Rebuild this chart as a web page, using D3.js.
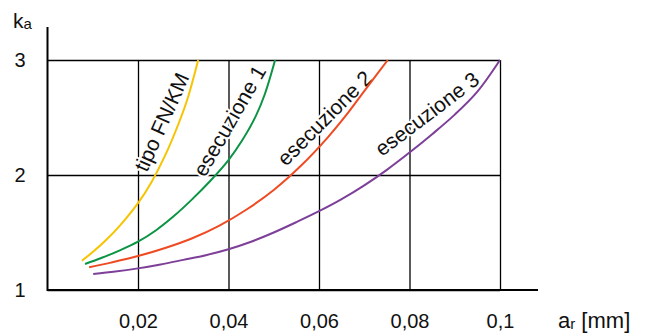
<!DOCTYPE html>
<html lang="it">
  <head>
    <meta charset="utf-8" />
    <script src="https://d3js.org/d3.v7.min.js"></script>
    <style>
      body { margin: 0; background: #fff; }
      svg text { font-family: "Liberation Sans", Arial, sans-serif; fill: #111; }
      .grid line { stroke: #000; stroke-width: 1.3; }
      .grid .domain { display: none; }
      .curve { fill: none; stroke-width: 2; }
      .lbl { font-size: 21px; stroke: #fff; stroke-width: 4; paint-order: stroke; stroke-linejoin: round; }
    </style>
  </head>
  <body>
    <svg id="chart" width="653" height="333"></svg>
    <script>
      // tick values and labels
      const xTicks = [0.02, 0.04, 0.06, 0.08, 0.1];
      const xTickLabels = ["0,02", "0,04", "0,06", "0,08", "0,1"];
      const yTicks = [1, 2, 3];

      // curves, [a_r, k_a]
      const tipoFN = [[0.0076,1.255],[0.010,1.33],[0.013,1.437],[0.016,1.56],[0.020,1.755],[0.023,1.94],[0.026,2.17],[0.029,2.45],[0.031,2.67],[0.0333,3.0]];
      const esec1 = [[0.0083,1.226],[0.012,1.28],[0.016,1.345],[0.020,1.42],[0.024,1.52],[0.028,1.645],[0.032,1.79],[0.036,1.95],[0.040,2.13],[0.043,2.30],[0.046,2.51],[0.048,2.70],[0.0503,3.0]];
      const esec2 = [[0.0092,1.197],[0.014,1.238],[0.020,1.295],[0.026,1.365],[0.032,1.45],[0.038,1.56],[0.044,1.70],[0.050,1.87],[0.056,2.08],[0.062,2.33],[0.066,2.52],[0.070,2.73],[0.0752,3.0]];
      const esec3 = [[0.0101,1.139],[0.015,1.16],[0.020,1.188],[0.025,1.222],[0.030,1.262],[0.035,1.303],[0.040,1.355],[0.045,1.42],[0.050,1.50],[0.055,1.59],[0.060,1.685],[0.065,1.79],[0.070,1.91],[0.075,2.045],[0.080,2.195],[0.085,2.355],[0.090,2.525],[0.095,2.725],[0.100,3.0]];

      const seriesNames = ["tipo FN/KM", "esecuzione 1", "esecuzione 2", "esecuzione 3"];
      const seriesData = [tipoFN, esec1, esec2, esec3];
      const colors = ["#f6c400", "#0b9444", "#ee4b23", "#7d3f98"];

      const svg = d3.select("#chart");
      const x = d3.scaleLinear().domain([0, 0.1]).range([47.5, 500]);
      const y = d3.scaleLinear().domain([1, 3]).range([290, 60]);

      // vertical gridlines + bottom labels
      svg.append("g")
        .attr("class", "grid")
        .attr("transform", "translate(0," + y(1) + ")")
        .call(d3.axisBottom(x).tickValues(xTicks)
          .tickFormat((d, i) => xTickLabels[i])
          .tickSize(-(y(1) - y(3))).tickPadding(24))
        .selectAll("text").style("font-size", "20px");

      // horizontal gridlines + left labels
      svg.append("g")
        .attr("class", "grid")
        .attr("transform", "translate(" + x(0) + ",0)")
        .call(d3.axisLeft(y).tickValues(yTicks).tickFormat(d3.format("d"))
          .tickSize(-(x(0.1) - x(0))).tickPadding(22))
        .selectAll("text").style("font-size", "20px");

      // axis lines
      svg.append("line").attr("x1", x(0)).attr("x2", 538).attr("y1", y(1)).attr("y2", y(1))
        .attr("stroke", "#000").attr("stroke-width", 2);
      svg.append("line").attr("x1", x(0)).attr("x2", x(0)).attr("y1", y(1) + 1).attr("y2", 27)
        .attr("stroke", "#000").attr("stroke-width", 2);

      // axis titles
      let ka = svg.append("text").attr("x", 13).attr("y", 28).style("font-size", "21px");
      ka.append("tspan").text("k");
      ka.append("tspan").attr("dy", 1).style("font-size", "15px").text("a");
      let ar = svg.append("text").attr("x", 558).attr("y", 328).style("font-size", "22px");
      ar.append("tspan").text("a");
      ar.append("tspan").attr("dy", 1).style("font-size", "15px").text("r");
      ar.append("tspan").attr("dy", -1).text(" [mm]");

      // curve labels: baseline start point, angle, size
      const labelPos = [[147, 173, -66, 21], [205, 178, -60, 21], [286, 167, -45, 21], [382, 157, -37, 21]];
      svg.append("g").selectAll("text")
        .data(seriesNames)
        .join("text")
        .attr("class", "lbl")
        .style("font-size", (d, i) => labelPos[i][3] + "px")
        .attr("transform", (d, i) => "translate(" + labelPos[i][0] + "," + labelPos[i][1] + ") rotate(" + labelPos[i][2] + ")")
        .text(d => d);

      const line = d3.line().x(d => x(d[0])).y(d => y(d[1])).curve(d3.curveCatmullRom);
      svg.append("g").selectAll("path")
        .data(seriesData)
        .join("path")
        .attr("class", "curve")
        .attr("stroke", (d, i) => colors[i])
        .attr("d", line);
    </script>
  </body>
</html>
